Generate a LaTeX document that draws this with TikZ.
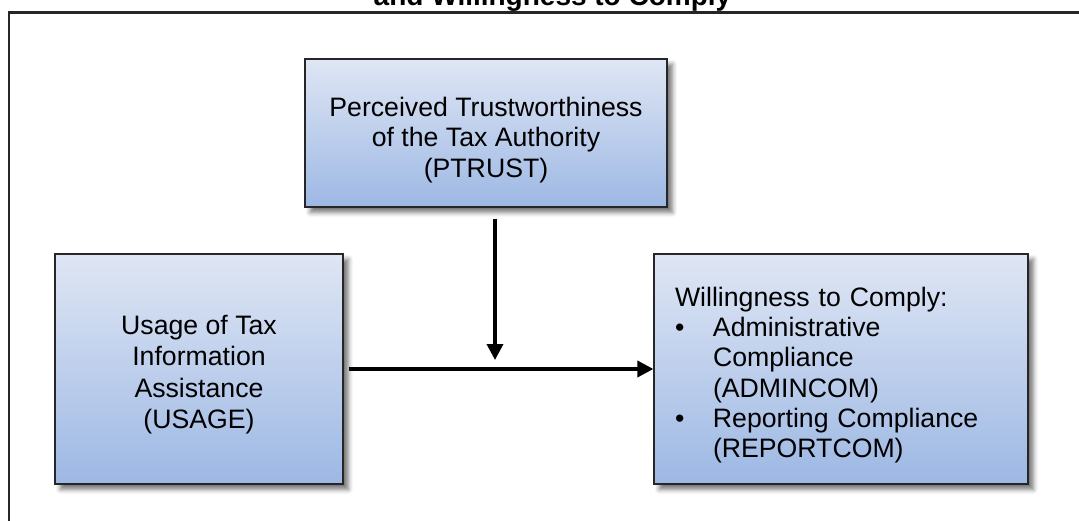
\documentclass[tikz,border=0pt]{standalone}
\usepackage{fontspec}
\setmainfont{Liberation Sans}
\usetikzlibrary{arrows.meta,shadows.blur}
\definecolor{boxtop}{RGB}{223,230,244}
\definecolor{boxbottom}{RGB}{157,184,228}
% bullet item helpers for the outcome box
\newcommand\bulletitem{\makebox[28.5pt][l]{\textbullet}}
\newcommand\bulletcont{\hspace*{28.5pt}}
% taller first line, so the text block sits a little low in its box
\newcommand\firstline[1]{\rule{0pt}{#1}}
\begin{document}
\begin{tikzpicture}[x=0.75pt,y=-0.75pt,
  var/.style={draw=black!85, line width=0.9pt,
    top color=boxtop, bottom color=boxbottom,
    blur shadow={shadow xshift=4pt, shadow yshift=-4pt,
                 shadow blur radius=3.5pt, shadow opacity=55},
    font=\fontsize{20}{23}\selectfont, inner sep=0pt},
  link/.style={line width=2.7pt, -{Triangle[length=12pt,width=12pt]}},
  frame/.style={line width=1.8pt, draw=black!85}]
\useasboundingbox (0,0) rectangle (1079,521);

% outer frame and title
\draw[frame] (1090,12.5) -- (9,12.5) -- (9,530);
\node[font=\fontsize{21}{25}\selectfont\bfseries, anchor=base, inner sep=0pt]
  (title) at (552.5,6) {and Willingness to Comply};

% variables
\node[var, minimum width=271.5pt, minimum height=111pt, align=center]
  (ptrust) at (486,133) {\firstline{25pt}Perceived Trustworthiness\\of the Tax Authority\\(PTRUST)};
\node[var, minimum width=216pt, minimum height=172.5pt, align=center,
      font=\fontsize{20}{23.5}\selectfont]
  (usage) at (199,369) {\firstline{23pt}Usage of Tax\\Information\\Assistance\\(USAGE)};
\node[var, minimum width=280.5pt, minimum height=172.5pt, text width=249pt, align=left,
      font=\fontsize{20}{22.7}\selectfont]
  (comply) at (841,369) {\firstline{23.5pt}Willingness to Comply:\\
    \bulletitem Administrative\\
    \bulletcont Compliance\\
    \bulletcont (ADMINCOM)\\
    \bulletitem Reporting Compliance\\
    \bulletcont (REPORTCOM)};

% main effect and moderation
\coordinate (join) at (495,369);
\draw[link] ([xshift=3.75pt]usage.east) -- (comply.west);
\draw[link, shorten <=8.25pt, shorten >=6.75pt] (ptrust.south -| join) -- (join);
\end{tikzpicture}
\end{document}
